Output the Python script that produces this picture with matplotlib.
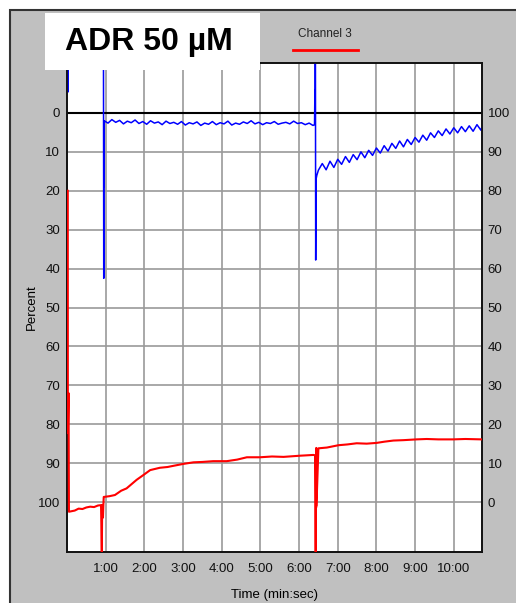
import numpy as np
import matplotlib
matplotlib.use("Agg")
import matplotlib.pyplot as plt
from matplotlib.patches import Rectangle
from matplotlib.lines import Line2D

plt.rcParams['font.family'] = ['Liberation Sans', 'DejaVu Sans']

# --- data ---
# blue trace, left axis (Percent, inverted)
blue_t_start = [0.025, 0.027, 0.03, 0.94, 0.95, 0.952, 0.955, 0.958]
blue_v_start = [-20.0, -5.4, -40.0, -40.0, 42.5, 2.0, 19.0, 2.0]

blue_t_base = [0.96, 1.06, 1.16, 1.26, 1.36, 1.46, 1.56, 1.66, 1.76, 1.86,
               1.96, 2.06, 2.16, 2.26, 2.36, 2.46, 2.56, 2.66, 2.76, 2.86,
               2.96, 3.06, 3.16, 3.26, 3.36, 3.46, 3.56, 3.66, 3.76, 3.86,
               3.96, 4.06, 4.16, 4.26, 4.36, 4.46, 4.56, 4.66, 4.76, 4.86,
               4.96, 5.06, 5.16, 5.26, 5.36, 5.46, 5.56, 5.66, 5.76, 5.86,
               5.96, 6.06, 6.16, 6.26, 6.36]
blue_v_base = [2.0, 2.6, 1.7, 2.4, 1.9, 2.8, 2.1, 2.5, 1.8, 2.7,
               2.2, 2.9, 2.0, 2.6, 2.3, 3.0, 2.1, 2.7, 2.4, 2.9,
               2.2, 3.1, 2.5, 2.8, 2.3, 3.2, 2.6, 2.9, 2.2, 3.0,
               2.5, 2.8, 2.1, 3.1, 2.6, 2.9, 2.3, 2.7, 2.0, 2.8,
               2.4, 3.0, 2.5, 2.7, 2.2, 2.9, 2.6, 2.4, 2.8, 2.1,
               2.7, 2.5, 3.0, 2.6, 3.2]

blue_t_spike = [6.40, 6.41, 6.415, 6.42, 6.43, 6.44, 6.46]
blue_v_spike = [3.0, -6.0, 0.0, -40.0, 37.8, 17.0, 16.0]

blue_t_rec = [6.5, 6.6, 6.7, 6.8, 6.9, 7.0, 7.1, 7.2, 7.3, 7.4,
              7.5, 7.6, 7.7, 7.8, 7.9, 8.0, 8.1, 8.2, 8.3, 8.4,
              8.5, 8.6, 8.7, 8.8, 8.9, 9.0, 9.1, 9.2, 9.3, 9.4,
              9.5, 9.6, 9.7, 9.8, 9.9, 10.0, 10.1, 10.2, 10.3, 10.4,
              10.5, 10.6, 10.7, 10.73]
blue_v_rec = [14.7, 13.0, 14.6, 12.4, 14.0, 11.9, 13.2, 11.2, 12.7, 10.7,
              12.0, 10.0, 11.5, 9.6, 10.9, 9.0, 10.3, 8.4, 9.8, 7.8,
              9.1, 7.2, 8.7, 6.8, 8.1, 6.3, 7.5, 5.7, 7.0, 5.1,
              6.3, 4.6, 5.8, 4.1, 5.4, 3.8, 5.1, 3.5, 4.8, 3.3,
              4.7, 3.0, 4.4, 3.6]

blue_t = blue_t_start + blue_t_base + blue_t_spike + blue_t_rec
blue_v = blue_v_start + blue_v_base + blue_v_spike + blue_v_rec

# red trace (Channel 3), right axis
red_t = [0.02, 0.022, 0.04, 0.05, 0.2, 0.3, 0.4, 0.5, 0.6, 0.7, 0.8, 0.88,
         0.9, 0.91, 0.93, 0.94, 0.95, 1.1, 1.24, 1.4, 1.54, 1.67, 1.8, 1.97,
         2.15, 2.4, 2.6, 2.75, 3.01, 3.27, 3.5, 3.78, 4.13, 4.4, 4.65, 4.99,
         5.3, 5.6, 6.02, 6.2, 6.37, 6.42, 6.43, 6.435, 6.44, 6.445, 6.45,
         6.5, 6.72, 7.02, 7.25, 7.49, 7.75, 8.01, 8.2, 8.44, 8.7, 9.04,
         9.3, 9.6, 9.99, 10.3, 10.72]
red_v = [80.0, 17.7, 28.0, -2.5, -2.2, -1.7, -1.8, -1.4, -1.2, -1.3, -0.9, -0.8,
         -13.0, -0.8, -4.0, -0.8, 1.3, 1.5, 1.8, 2.9, 3.5, 4.6, 5.7, 6.9,
         8.2, 8.8, 9.0, 9.3, 9.8, 10.2, 10.3, 10.5, 10.5, 10.9, 11.5, 11.5,
         11.7, 11.6, 11.9, 12.0, 12.1, 12.0, -13.0, 12.0, -1.5, 13.9, -1.0,
         13.8, 14.0, 14.6, 14.8, 15.1, 15.0, 15.2, 15.5, 15.8, 15.9, 16.1,
         16.2, 16.1, 16.1, 16.2, 16.1]

x_ticks = [1, 2, 3, 4, 5, 6, 7, 8, 9, 10]
x_labels = ["1:00", "2:00", "3:00", "4:00", "5:00", "6:00", "7:00", "8:00", "9:00", "10:00"]
left_ticks = [0, 10, 20, 30, 40, 50, 60, 70, 80, 90, 100]
right_ticks = [0, 10, 20, 30, 40, 50, 60, 70, 80, 90, 100]

W, H = 516, 603
fig = plt.figure(figsize=(W / 100, H / 100), dpi=100, facecolor='white')

# gray panel
panel = Rectangle((10 / W, -0.01), 1.0, 1 - 10 / H + 0.01, transform=fig.transFigure,
                  facecolor='#c0c0c0', edgecolor='#333333', linewidth=1.5, zorder=-10)
fig.patches.append(panel)

ax = fig.add_axes([67 / W, 1 - 552 / H, 415 / W, 489 / H])
ax.set_facecolor('white')
ax.set_xlim(0, 10.73)
ax.set_ylim(112.85, -12.85)

for t in x_ticks:
    ax.axvline(t, color='#9a9a9a', lw=1.2, zorder=1)
for v in left_ticks[1:]:
    ax.axhline(v, color='#9a9a9a', lw=1.2, zorder=1)
ax.axhline(0, color='black', lw=1.5, zorder=2)

ax.plot(blue_t, blue_v, color='#0000ff', lw=1.1, zorder=4)

ax.set_xticks(x_ticks)
ax.set_xticklabels(x_labels)
ax.set_yticks(left_ticks)
ax.tick_params(axis='both', length=0, labelsize=9.5, colors='#111111')
ax.tick_params(axis='x', pad=8)
ax.tick_params(axis='y', pad=5)
ax.set_ylabel("Percent", fontsize=9.5, labelpad=0)
ax.set_xlabel("Time (min:sec)", fontsize=9.5, labelpad=10)
for s in ax.spines.values():
    s.set_linewidth(1.2)
    s.set_color('#111111')

ax2 = ax.twinx()
ax2.set_ylim(-12.85, 112.85)
ax2.plot(red_t, red_v, color='#ff0000', lw=1.5, zorder=3)
ax2.set_yticks(right_ticks)
ax2.tick_params(axis='y', length=0, labelsize=9.5, pad=4, colors='#111111')
for s in ax2.spines.values():
    s.set_linewidth(1.2)
    s.set_color('#111111')

# legend
fig.text(325 / W, 1 - 34 / H, "Channel 3", ha='center', va='center', fontsize=8.5, color='#222222')
fig.add_artist(Line2D([293 / W, 358 / W], [1 - 50 / H, 1 - 50 / H], transform=fig.transFigure,
                      color='#ff0000', lw=2))

# title box
fig.patches.append(Rectangle((45 / W, 1 - 70 / H), 215 / W, 57 / H, transform=fig.transFigure,
                             facecolor='white', edgecolor='none', zorder=5))
fig.text(65 / W, 1 - 42 / H, "ADR 50 µM", ha='left', va='center', fontsize=23,
         fontweight='bold', color='black', zorder=6)

fig.savefig("out.png", dpi=100)
